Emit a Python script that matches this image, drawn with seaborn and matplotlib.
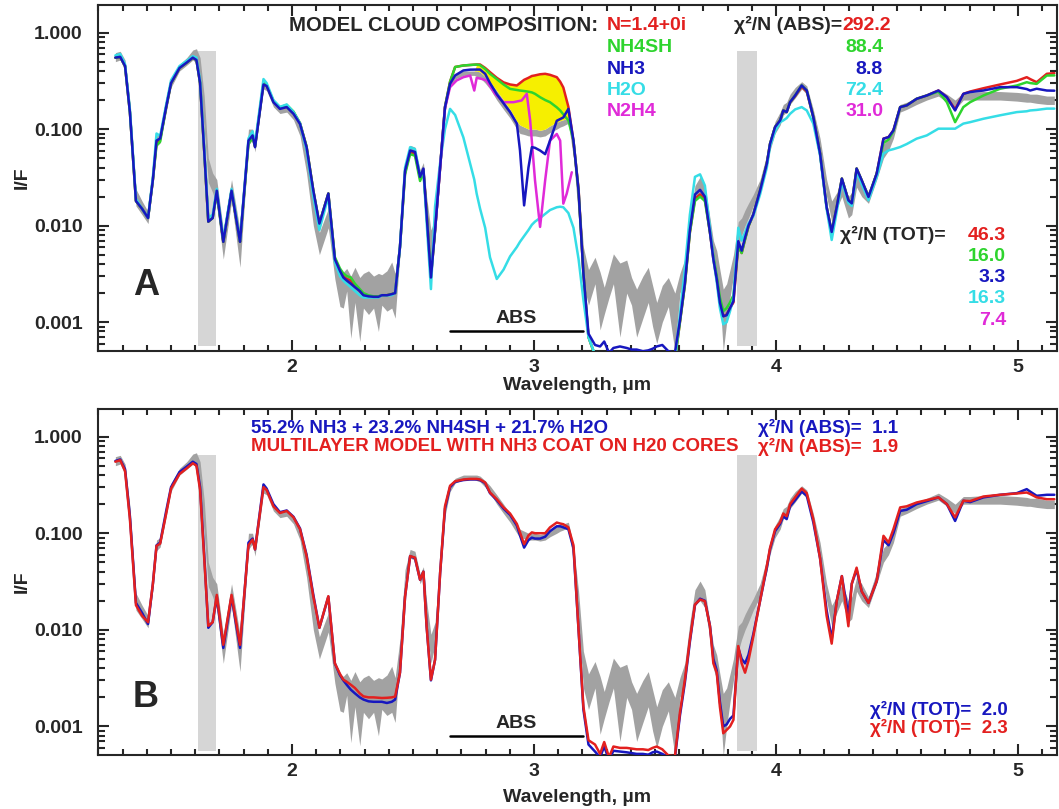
import matplotlib
matplotlib.use("Agg")
import matplotlib.pyplot as plt
from matplotlib.ticker import FixedLocator, FixedFormatter, LogLocator, MultipleLocator, NullFormatter
import numpy as np
import seaborn as sns

# ==========================================
# DATA
# ==========================================
# common wavelength grid (um) for observations and models
wl = [1.27, 1.29, 1.31, 1.33, 1.355, 1.38, 1.405, 1.425, 1.44, 1.455,
      1.48, 1.50, 1.535, 1.565, 1.59, 1.605, 1.62, 1.637, 1.654, 1.672,
      1.689, 1.716, 1.75, 1.785, 1.82, 1.837, 1.847, 1.882, 1.895, 1.923,
      1.95, 1.978, 2.006, 2.033, 2.06, 2.088, 2.113, 2.15, 2.177, 2.198,
      2.212, 2.226, 2.243, 2.26, 2.28, 2.295, 2.316, 2.337, 2.357, 2.371,
      2.392, 2.412, 2.426, 2.446, 2.467, 2.488, 2.508, 2.529, 2.543, 2.556,
      2.574, 2.591, 2.612, 2.632, 2.653, 2.674, 2.708, 2.736, 2.753, 2.763,
      2.777, 2.798, 2.818, 2.846, 2.874, 2.901, 2.929, 2.942, 2.959, 2.977,
      2.991, 3.004, 3.025, 3.046, 3.066, 3.094, 3.108, 3.121, 3.142, 3.163,
      3.184, 3.204, 3.225, 3.252, 3.273, 3.29, 3.31, 3.328, 3.355, 3.383,
      3.403, 3.424, 3.45, 3.472, 3.49, 3.507, 3.53, 3.555, 3.582, 3.603,
      3.623, 3.644, 3.665, 3.686, 3.706, 3.727, 3.741, 3.755, 3.768, 3.782,
      3.796, 3.81, 3.824, 3.844, 3.858, 3.872, 3.886, 3.906, 3.934, 3.962,
      3.975, 3.996, 4.017, 4.03, 4.044, 4.058, 4.079, 4.106, 4.127, 4.154,
      4.182, 4.209, 4.23, 4.251, 4.272, 4.299, 4.313, 4.333, 4.354, 4.382,
      4.416, 4.444, 4.465, 4.485, 4.513, 4.54, 4.581, 4.623, 4.671, 4.706,
      4.74, 4.774, 4.802, 4.857, 4.926, 4.995, 5.036, 5.05, 5.077, 5.119,
      5.15]

# observed spectrum, lower / upper edge of the grey band
obs_lo = [0.50, 0.52, 0.40, 0.13, 0.016, 0.013, 0.0105, 0.026, 0.066, 0.072,
          0.15, 0.27, 0.40, 0.46, 0.52, 0.48, 0.30, 0.10, 0.028, 0.022,
          0.016, 0.0045, 0.018, 0.0037, 0.068, 0.078, 0.058, 0.26, 0.25, 0.17,
          0.145, 0.15, 0.125, 0.085, 0.035, 0.01, 0.005, 0.0095, 0.0028, 0.00145,
          0.0014, 0.0021, 0.00068, 0.0016, 0.00063, 0.0014, 0.0012, 0.0014, 0.0008, 0.0015,
          0.0013, 0.0014, 0.0011, 0.005, 0.033, 0.055, 0.053, 0.03, 0.036, 0.012,
          0.0045, 0.007, 0.035, 0.15, 0.27, 0.33, 0.36, 0.36, 0.36, 0.35,
          0.34, 0.30, 0.26, 0.20, 0.16, 0.13, 0.10, 0.09, 0.088, 0.085,
          0.085, 0.085, 0.083, 0.085, 0.092, 0.10, 0.105, 0.108, 0.115, 0.05,
          0.012, 0.0025, 0.0015, 0.0025, 0.00083, 0.0012, 0.0018, 0.0025, 0.0007, 0.002,
          0.0015, 0.0007, 0.0011, 0.0016, 0.0009, 0.0006, 0.001, 0.00145, 0.0005, 0.002,
          0.0028, 0.008, 0.018, 0.02, 0.017, 0.008, 0.004, 0.003, 0.0018, 0.0005,
          0.001, 0.0018, 0.003, 0.006, 0.008, 0.01, 0.012, 0.016, 0.022, 0.04,
          0.06, 0.09, 0.11, 0.14, 0.15, 0.18, 0.21, 0.26, 0.23, 0.13,
          0.06, 0.02, 0.011, 0.015, 0.02, 0.012, 0.013, 0.025, 0.02, 0.017,
          0.03, 0.05, 0.06, 0.08, 0.15, 0.16, 0.18, 0.2, 0.22, 0.19,
          0.16, 0.2, 0.2, 0.2, 0.2, 0.195, 0.19, 0.19, 0.185, 0.18,
          0.18]
obs_hi = [0.62, 0.64, 0.52, 0.19, 0.024, 0.018, 0.014, 0.035, 0.085, 0.09,
          0.19, 0.33, 0.47, 0.55, 0.66, 0.68, 0.55, 0.22, 0.05, 0.035,
          0.03, 0.009, 0.03, 0.009, 0.1, 0.1, 0.075, 0.31, 0.29, 0.20,
          0.17, 0.175, 0.15, 0.11, 0.055, 0.018, 0.0085, 0.015, 0.0045, 0.0035,
          0.0033, 0.0036, 0.003, 0.0037, 0.0029, 0.0032, 0.0034, 0.003, 0.0032, 0.0031,
          0.0034, 0.0042, 0.0032, 0.008, 0.042, 0.068, 0.065, 0.038, 0.045, 0.02,
          0.009, 0.012, 0.05, 0.2, 0.32, 0.37, 0.40, 0.40, 0.40, 0.40,
          0.39, 0.35, 0.31, 0.25, 0.2, 0.16, 0.12, 0.11, 0.105, 0.1,
          0.1, 0.1, 0.097, 0.1, 0.108, 0.118, 0.122, 0.125, 0.13, 0.075,
          0.025, 0.006, 0.0035, 0.0047, 0.0033, 0.0023, 0.0035, 0.0051, 0.0041, 0.0044,
          0.0029, 0.0022, 0.003, 0.0037, 0.0024, 0.0016, 0.0024, 0.0029, 0.002, 0.0032,
          0.0045, 0.012, 0.026, 0.032, 0.026, 0.012, 0.007, 0.0055, 0.0035, 0.0022,
          0.0025, 0.0035, 0.005, 0.011, 0.012, 0.0145, 0.017, 0.021, 0.03, 0.055,
          0.08, 0.12, 0.15, 0.18, 0.19, 0.23, 0.27, 0.31, 0.28, 0.16,
          0.08, 0.03, 0.018, 0.022, 0.03, 0.02, 0.022, 0.035, 0.03, 0.022,
          0.04, 0.07, 0.08, 0.11, 0.18, 0.19, 0.21, 0.23, 0.26, 0.23,
          0.2, 0.24, 0.24, 0.245, 0.245, 0.24, 0.235, 0.23, 0.23, 0.22,
          0.22]

# panel A models
n14 = [0.55, 0.56, 0.45, 0.15, 0.018, 0.015, 0.012, 0.03, 0.072, 0.078,
       0.17, 0.30, 0.43, 0.49, 0.55, 0.52, 0.30, 0.06, 0.011, 0.012,
       0.023, 0.0068, 0.023, 0.0068, 0.074, 0.084, 0.066, 0.30, 0.285, 0.195,
       0.166, 0.175, 0.15, 0.115, 0.066, 0.023, 0.0105, 0.0215, 0.0046, 0.0034,
       0.003, 0.0028, 0.0027, 0.0024, 0.0021, 0.0019, 0.00185, 0.00183, 0.00183, 0.0019,
       0.0019, 0.00195, 0.002, 0.006, 0.036, 0.058, 0.056, 0.031, 0.038, 0.0135,
       0.0029, 0.009, 0.040, 0.17, 0.31, 0.44, 0.456, 0.462, 0.465, 0.467,
       0.467, 0.43, 0.389, 0.34, 0.305, 0.29, 0.283, 0.30, 0.324, 0.34,
       0.355, 0.36, 0.37, 0.374, 0.365, 0.345, 0.31, 0.27, 0.17, 0.075,
       0.024, 0.0032, 0.0007, 0.00045, 0.00043, 0.00046, 0.0004, 0.00043, 0.00044, 0.00043,
       0.00042, 0.00042, 0.0004, 0.00041, 0.00042, 0.00044, 0.00046, 0.0004, 0.0004, 0.001,
       0.0024, 0.0085, 0.019, 0.021, 0.019, 0.0085, 0.0045, 0.0028, 0.0016, 0.00115,
       0.0012, 0.0014, 0.0016, 0.0062, 0.0052, 0.0072, 0.0098, 0.013, 0.023, 0.044,
       0.070, 0.105, 0.123, 0.156, 0.150, 0.19, 0.22, 0.275, 0.245, 0.133,
       0.0557, 0.0156, 0.0086, 0.0156, 0.0307, 0.0183, 0.017, 0.039, 0.0295, 0.0198,
       0.0346, 0.0796, 0.0826, 0.097, 0.169, 0.176, 0.206, 0.223, 0.251, 0.214,
       0.16, 0.232, 0.245, 0.265, 0.29, 0.316, 0.345, 0.33, 0.306, 0.374,
       0.38]
nh4sh = [0.55, 0.56, 0.45, 0.15, 0.018, 0.015, 0.012, 0.03, 0.068, 0.074,
         0.17, 0.30, 0.43, 0.49, 0.55, 0.52, 0.30, 0.06, 0.011, 0.012,
         0.022, 0.0068, 0.023, 0.0068, 0.07, 0.082, 0.066, 0.30, 0.285, 0.195,
         0.168, 0.178, 0.152, 0.115, 0.066, 0.023, 0.0105, 0.0215, 0.0047, 0.0036,
         0.0032, 0.003, 0.0029, 0.0025, 0.0022, 0.002, 0.0019, 0.00185, 0.00185, 0.0019,
         0.0019, 0.00195, 0.002, 0.006, 0.034, 0.055, 0.053, 0.029, 0.036, 0.0135,
         0.003, 0.009, 0.040, 0.17, 0.31, 0.44, 0.456, 0.462, 0.465, 0.467,
         0.46, 0.42, 0.374, 0.33, 0.29, 0.261, 0.254, 0.251, 0.248, 0.244,
         0.24, 0.232, 0.214, 0.2, 0.19, 0.168, 0.156, 0.142, 0.123, 0.076,
         0.023, 0.0032, 0.0007, 0.00045, 0.00043, 0.00046, 0.0004, 0.00043, 0.00044, 0.00043,
         0.00042, 0.00042, 0.0004, 0.00041, 0.00042, 0.00044, 0.00046, 0.0004, 0.0004, 0.001,
         0.0024, 0.0085, 0.018, 0.02, 0.018, 0.0085, 0.0048, 0.003, 0.0018, 0.0013,
         0.0014, 0.0016, 0.0019, 0.0062, 0.0052, 0.0072, 0.0098, 0.013, 0.023, 0.044,
         0.070, 0.105, 0.123, 0.156, 0.150, 0.19, 0.223, 0.283, 0.251, 0.133,
         0.0557, 0.0156, 0.0086, 0.0156, 0.0307, 0.0183, 0.017, 0.039, 0.0295, 0.0198,
         0.0346, 0.072, 0.078, 0.095, 0.169, 0.176, 0.206, 0.223, 0.245, 0.19,
         0.118, 0.169, 0.19, 0.223, 0.262, 0.283, 0.306, 0.30, 0.294, 0.359,
         0.36]
nh3 = [0.55, 0.56, 0.45, 0.15, 0.018, 0.015, 0.012, 0.03, 0.076, 0.08,
       0.17, 0.30, 0.43, 0.49, 0.55, 0.52, 0.30, 0.06, 0.011, 0.012,
       0.023, 0.0068, 0.023, 0.0068, 0.076, 0.086, 0.065, 0.29, 0.28, 0.19,
       0.162, 0.169, 0.144, 0.113, 0.065, 0.023, 0.0105, 0.0215, 0.0045, 0.0034,
       0.0029, 0.0027, 0.0025, 0.0023, 0.0021, 0.0019, 0.00185, 0.00183, 0.00183, 0.0019,
       0.0019, 0.00195, 0.002, 0.006, 0.037, 0.060, 0.058, 0.032, 0.039, 0.0133,
       0.0029, 0.009, 0.040, 0.168, 0.295, 0.36, 0.405, 0.413, 0.414, 0.414,
       0.414, 0.374, 0.30, 0.23, 0.185, 0.15, 0.114, 0.060, 0.0162, 0.040,
       0.065, 0.064, 0.060, 0.055, 0.076, 0.122, 0.127, 0.132, 0.162, 0.076,
       0.023, 0.0032, 0.00076, 0.00058, 0.00056, 0.00063, 0.00048, 0.00054, 0.00056, 0.00054,
       0.00052, 0.00052, 0.0005, 0.00051, 0.00053, 0.00056, 0.00058, 0.0005, 0.00048, 0.00104,
       0.0025, 0.009, 0.021, 0.0235, 0.02, 0.0085, 0.0045, 0.0028, 0.0016, 0.00115,
       0.00118, 0.0014, 0.00165, 0.0069, 0.0055, 0.0075, 0.010, 0.013, 0.023, 0.044,
       0.070, 0.105, 0.123, 0.156, 0.150, 0.19, 0.223, 0.283, 0.251, 0.133,
       0.0557, 0.0156, 0.0086, 0.0156, 0.0307, 0.0183, 0.017, 0.039, 0.0295, 0.0198,
       0.0346, 0.0796, 0.0826, 0.097, 0.169, 0.176, 0.206, 0.223, 0.251, 0.214,
       0.156, 0.232, 0.242, 0.251, 0.272, 0.272, 0.26, 0.251, 0.262, 0.251,
       0.25]
h2o = [0.58, 0.60, 0.47, 0.16, 0.019, 0.015, 0.012, 0.032, 0.09, 0.085,
       0.18, 0.32, 0.45, 0.51, 0.57, 0.55, 0.32, 0.065, 0.012, 0.013,
       0.024, 0.0072, 0.024, 0.007, 0.08, 0.095, 0.07, 0.33, 0.30, 0.20,
       0.17, 0.18, 0.15, 0.115, 0.06, 0.02, 0.009, 0.02, 0.0042, 0.003,
       0.0027, 0.0025, 0.0023, 0.0021, 0.0019, 0.0018, 0.0018, 0.0018, 0.0018, 0.0019,
       0.0019, 0.0019, 0.002, 0.006, 0.04, 0.065, 0.062, 0.033, 0.037, 0.011,
       0.0022, 0.0158, 0.045, 0.10, 0.162, 0.14, 0.082, 0.0436, 0.03, 0.0214,
       0.015, 0.0095, 0.0047, 0.0028, 0.0035, 0.0048, 0.006, 0.0068, 0.0078, 0.009,
       0.0102, 0.011, 0.012, 0.0132, 0.0145, 0.0155, 0.0157, 0.0155, 0.0135, 0.0095,
       0.0045, 0.0017, 0.0007, 0.00046, 0.00042, 0.00044, 0.0004, 0.00042, 0.00043, 0.00042,
       0.00041, 0.00041, 0.0004, 0.0004, 0.00041, 0.00043, 0.00045, 0.0004, 0.0004, 0.0012,
       0.0035, 0.013, 0.032, 0.034, 0.026, 0.0095, 0.0045, 0.0026, 0.0014, 0.00095,
       0.001, 0.0013, 0.0018, 0.0095, 0.007, 0.0085, 0.0105, 0.0125, 0.021, 0.04,
       0.066, 0.095, 0.118, 0.123, 0.13, 0.144, 0.16, 0.169, 0.156, 0.114,
       0.0534, 0.015, 0.0071, 0.014, 0.0283, 0.0172, 0.016, 0.0359, 0.027, 0.0183,
       0.0319, 0.0557, 0.0602, 0.062, 0.0652, 0.07, 0.0796, 0.086, 0.101, 0.101,
       0.101, 0.114, 0.118, 0.128, 0.139, 0.150, 0.153, 0.156, 0.158, 0.163,
       0.163]
# N2H4 model is only visible across the 2.6-3.15 um window
wl_n2h4 = [2.591, 2.612, 2.632, 2.653, 2.68, 2.708, 2.736, 2.753, 2.763, 2.784,
           2.804, 2.839, 2.874, 2.915, 2.949, 2.97, 2.984, 3.004, 3.025, 3.046,
           3.066, 3.094, 3.108, 3.121, 3.135, 3.156]
n2h4 = [0.009, 0.04, 0.165, 0.272, 0.319, 0.345, 0.359, 0.251, 0.34, 0.331,
        0.319, 0.232, 0.19, 0.19, 0.198, 0.232, 0.123, 0.0295, 0.0097, 0.0295,
        0.076, 0.089, 0.076, 0.0169, 0.0214, 0.0357]

# panel B models
mix = [0.56, 0.58, 0.46, 0.15, 0.019, 0.015, 0.0115, 0.03, 0.075, 0.08,
       0.17, 0.30, 0.43, 0.49, 0.55, 0.52, 0.30, 0.06, 0.0105, 0.012,
       0.022, 0.0065, 0.022, 0.0065, 0.08, 0.088, 0.068, 0.32, 0.29, 0.20,
       0.165, 0.172, 0.148, 0.112, 0.06, 0.023, 0.0105, 0.022, 0.0045, 0.0034,
       0.003, 0.0027, 0.0024, 0.0022, 0.002, 0.0019, 0.00182, 0.0018, 0.0018, 0.0018,
       0.00175, 0.0018, 0.0019, 0.0036, 0.022, 0.058, 0.055, 0.033, 0.04, 0.011,
       0.003, 0.0049, 0.039, 0.18, 0.30, 0.34, 0.355, 0.36, 0.36, 0.36,
       0.355, 0.33, 0.26, 0.22, 0.18, 0.155, 0.12, 0.095, 0.071, 0.085,
       0.09, 0.088, 0.088, 0.092, 0.105, 0.118, 0.118, 0.115, 0.11, 0.07,
       0.01, 0.0015, 0.00065, 0.00055, 0.00048, 0.00062, 0.00045, 0.00056, 0.00055, 0.00054,
       0.00053, 0.00052, 0.00052, 0.00051, 0.00054, 0.00055, 0.00052, 0.00048, 0.00047, 0.0013,
       0.0028, 0.0075, 0.018, 0.021, 0.02, 0.011, 0.005, 0.0038, 0.0018, 0.001,
       0.00105, 0.0012, 0.0013, 0.0065, 0.005, 0.0045, 0.0055, 0.009, 0.02, 0.044,
       0.068, 0.105, 0.125, 0.15, 0.14, 0.19, 0.22, 0.27, 0.245, 0.13,
       0.055, 0.016, 0.008, 0.02, 0.036, 0.014, 0.03, 0.042, 0.025, 0.019,
       0.032, 0.085, 0.075, 0.1, 0.17, 0.175, 0.2, 0.215, 0.235, 0.2,
       0.134, 0.217, 0.21, 0.235, 0.25, 0.26, 0.286, 0.27, 0.244, 0.25,
       0.25]
coat = [0.55, 0.57, 0.44, 0.14, 0.018, 0.014, 0.012, 0.03, 0.074, 0.078,
        0.16, 0.29, 0.41, 0.47, 0.53, 0.50, 0.28, 0.055, 0.011, 0.012,
        0.023, 0.007, 0.023, 0.007, 0.075, 0.086, 0.068, 0.30, 0.28, 0.19,
        0.162, 0.17, 0.146, 0.11, 0.058, 0.022, 0.0105, 0.0223, 0.0045, 0.0035,
        0.00305, 0.0029, 0.0027, 0.0025, 0.0022, 0.00205, 0.002, 0.002, 0.00198, 0.00197,
        0.00198, 0.002, 0.00204, 0.0036, 0.022, 0.058, 0.056, 0.033, 0.04, 0.0109,
        0.00305, 0.0049, 0.039, 0.19, 0.31, 0.345, 0.36, 0.365, 0.365, 0.365,
        0.36, 0.335, 0.264, 0.225, 0.185, 0.16, 0.125, 0.102, 0.077, 0.095,
        0.102, 0.1, 0.1, 0.1, 0.115, 0.129, 0.126, 0.124, 0.115, 0.075,
        0.01, 0.0016, 0.00072, 0.00065, 0.00052, 0.00069, 0.00048, 0.00062, 0.0006, 0.0006,
        0.00059, 0.00058, 0.00058, 0.00057, 0.0006, 0.00062, 0.00058, 0.0005, 0.00049, 0.0014,
        0.003, 0.0079, 0.0183, 0.0206, 0.0198, 0.0109, 0.0045, 0.0036, 0.0016, 0.00085,
        0.00092, 0.001, 0.00117, 0.0068, 0.0045, 0.0036, 0.0048, 0.0085, 0.02, 0.046,
        0.07, 0.11, 0.13, 0.16, 0.15, 0.2, 0.235, 0.29, 0.26, 0.14,
        0.055, 0.014, 0.0072, 0.02, 0.036, 0.0109, 0.03, 0.044, 0.025, 0.019,
        0.032, 0.094, 0.08, 0.11, 0.185, 0.19, 0.208, 0.22, 0.235, 0.2,
        0.146, 0.217, 0.215, 0.24, 0.25, 0.258, 0.264, 0.255, 0.235, 0.225,
        0.225]

# masked wavelength windows and the ABS fitting window
mask_bands = [(1.612, 1.684), (3.84, 3.92)]
mask_range = (0.00056, 0.65)
abs_window = (2.653, 3.201)
abs_level = 0.0008
yellow_window = (2.76, 3.16)

# legend texts
names_a = ["N=1.4+0i", "NH4SH", "NH3", "H2O", "N2H4"]
chi_abs_a = ["292.2", "88.4", "8.8", "72.4", "31.0"]
chi_tot_a = ["46.3", "16.0", "3.3", "16.3", "7.4"]
names_b = ["55.2% NH3 + 23.2% NH4SH + 21.7% H2O",
           "MULTILAYER MODEL WITH NH3 COAT ON H20 CORES"]
chi_abs_b = ["1.1", "1.9"]
chi_tot_b = ["2.0", "2.3"]

RED = "#e3201f"
GREEN = "#2ed42e"
BLUE = "#1717bf"
CYAN = "#35dde6"
MAGENTA = "#e02ad8"
YELLOW = "#f6ef00"
GREY = "#a2a2a2"
MASK = "#d6d6d6"

colors_a = [RED, GREEN, BLUE, CYAN, MAGENTA]
colors_b = [BLUE, RED]

for arr in (obs_lo, obs_hi, n14, nh4sh, nh3, h2o, mix, coat):
    assert len(arr) == len(wl)

# ==========================================
# STYLE
# ==========================================
sns.set_style("ticks")
plt.rcParams['font.family'] = ['Liberation Sans', 'DejaVu Sans']
plt.rcParams['font.weight'] = 'bold'
plt.rcParams['axes.linewidth'] = 1.5
FS = 14

fig = plt.figure(figsize=(10.59, 8.09), dpi=100)
ax_a = fig.add_axes([0.0925, 0.5665, 0.9056, 0.4273])
ax_b = fig.add_axes([0.0925, 0.0667, 0.9056, 0.4277])


def base_panel(ax):
    ax.set_yscale('log')
    for x0, x1 in mask_bands:
        ax.fill_between([x0, x1], mask_range[0], mask_range[1], color=MASK, lw=0, zorder=1)
    ax.fill_between(wl, obs_lo, obs_hi, color=GREY, lw=0, zorder=2)
    ax.plot(abs_window, [abs_level, abs_level], color='black', lw=1.8, zorder=6)
    ax.text(np.mean(abs_window), 0.00108, "ABS", ha='center', va='center',
            fontsize=FS, fontweight='bold')

    ax.set_xlim(1.198, 5.161)
    ax.set_ylim(5.06e-4, 1.93)
    ax.xaxis.set_major_locator(FixedLocator([2, 3, 4, 5]))
    ax.xaxis.set_minor_locator(MultipleLocator(0.1))
    ax.yaxis.set_major_locator(FixedLocator([0.001, 0.01, 0.1, 1.0]))
    ax.yaxis.set_major_formatter(FixedFormatter(["0.001", "0.010", "0.100", "1.000"]))
    ax.yaxis.set_minor_locator(LogLocator(base=10, subs=np.arange(2, 10)))
    ax.yaxis.set_minor_formatter(NullFormatter())
    ax.tick_params(which='both', direction='in', top=True, right=True, width=1.5,
                   labelsize=FS)
    ax.tick_params(axis='x', which='major', length=8, pad=6)
    ax.tick_params(axis='x', which='minor', length=4)
    ax.tick_params(axis='y', which='major', length=8, pad=11)
    ax.tick_params(axis='y', which='minor', length=5)
    for lab in ax.get_xticklabels() + ax.get_yticklabels():
        lab.set_fontweight('bold')
    ax.set_xlabel("Wavelength, µm", fontsize=FS, fontweight='bold')
    ax.set_ylabel("I/F", fontsize=FS, fontweight='bold')
    ax.yaxis.label.set_va('center')
    ax.xaxis.label.set_va('center')
    ax.yaxis.set_label_coords(-0.0793, 0.5)
    for s in ax.spines.values():
        s.set_visible(True)
        s.set_linewidth(1.5)


lw = 1.8

# ==========================================
# PANEL A
# ==========================================
base_panel(ax_a)
ax_a.xaxis.set_label_coords(0.5, -0.102)
wl_arr = np.array(wl)
yel = (wl_arr >= yellow_window[0]) & (wl_arr <= yellow_window[1]) & (np.array(n14) > np.array(obs_hi))
ax_a.fill_between(wl, obs_hi, n14, where=yel, interpolate=True, color=YELLOW, lw=0, zorder=3)

sns.lineplot(x=wl, y=n14, ax=ax_a, color=RED, lw=lw, estimator=None, sort=False, zorder=4)
sns.lineplot(x=wl, y=nh4sh, ax=ax_a, color=GREEN, lw=lw, estimator=None, sort=False, zorder=4)
sns.lineplot(x=wl, y=h2o, ax=ax_a, color=CYAN, lw=lw, estimator=None, sort=False, zorder=4)
sns.lineplot(x=wl_n2h4, y=n2h4, ax=ax_a, color=MAGENTA, lw=lw, estimator=None, sort=False, zorder=5)
sns.lineplot(x=wl, y=nh3, ax=ax_a, color=BLUE, lw=lw, estimator=None, sort=False, zorder=5)

ta = ax_a.transAxes
rows_a = [0.942, 0.8776, 0.8149, 0.7521, 0.6914]
ax_a.text(0.5214, rows_a[0], "MODEL CLOUD COMPOSITION:", transform=ta, ha='right',
          va='center', fontsize=14.7, fontweight='bold')
ax_a.text(0.7758, rows_a[0], "χ²/N (ABS)=", transform=ta, ha='right', va='center',
          fontsize=FS, fontweight='bold')
ax_a.text(0.7758, rows_a[0], chi_abs_a[0], transform=ta, ha='left', va='center',
          fontsize=FS, fontweight='bold', color=colors_a[0])
for i, (nm, c) in enumerate(zip(names_a, colors_a)):
    ax_a.text(0.5308, rows_a[i], nm, transform=ta, ha='left', va='center',
              fontsize=FS, fontweight='bold', color=c)
    if i > 0:
        ax_a.text(0.8186, rows_a[i], chi_abs_a[i], transform=ta, ha='right', va='center',
                  fontsize=FS, fontweight='bold', color=c)

rows_tot = [0.3347, 0.2731, 0.2115, 0.1499, 0.0882]
ax_a.text(0.7737, rows_tot[0], "χ²/N (TOT)=", transform=ta, ha='left', va='center',
          fontsize=FS, fontweight='bold')
for v, c, y in zip(chi_tot_a, colors_a, rows_tot):
    ax_a.text(0.9468, y, v, transform=ta, ha='right', va='center',
              fontsize=FS, fontweight='bold', color=c)
ax_a.text(0.050, 0.188, "A", transform=ta, ha='center', va='center',
          fontsize=26, fontweight='bold')

# ==========================================
# PANEL B
# ==========================================
base_panel(ax_b)
ax_b.xaxis.set_label_coords(0.5, -0.1214)
sns.lineplot(x=wl, y=mix, ax=ax_b, color=BLUE, lw=lw, estimator=None, sort=False, zorder=4)
sns.lineplot(x=wl, y=coat, ax=ax_b, color=RED, lw=lw, estimator=None, sort=False, zorder=5)

tb = ax_b.transAxes
rows_b = [0.9451, 0.891]
for txt, c, y in zip(names_b, colors_b, rows_b):
    ax_b.text(0.1595, y, txt, transform=tb, ha='left', va='center',
              fontsize=13.5, fontweight='bold', color=c)
for v, c, y in zip(chi_abs_b, colors_b, rows_b):
    ax_b.text(0.6882, y, "χ²/N (ABS)=  " + v, transform=tb, ha='left', va='center',
              fontsize=13.5, fontweight='bold', color=c)
for v, c, y in zip(chi_tot_b, colors_b, [0.13, 0.0772]):
    ax_b.text(0.805, y, "χ²/N (TOT)=  " + v, transform=tb, ha='left', va='center',
              fontsize=13.5, fontweight='bold', color=c)
ax_b.text(0.050, 0.165, "B", transform=tb, ha='center', va='center',
          fontsize=26, fontweight='bold')

fig.savefig("out.png", dpi=100)
